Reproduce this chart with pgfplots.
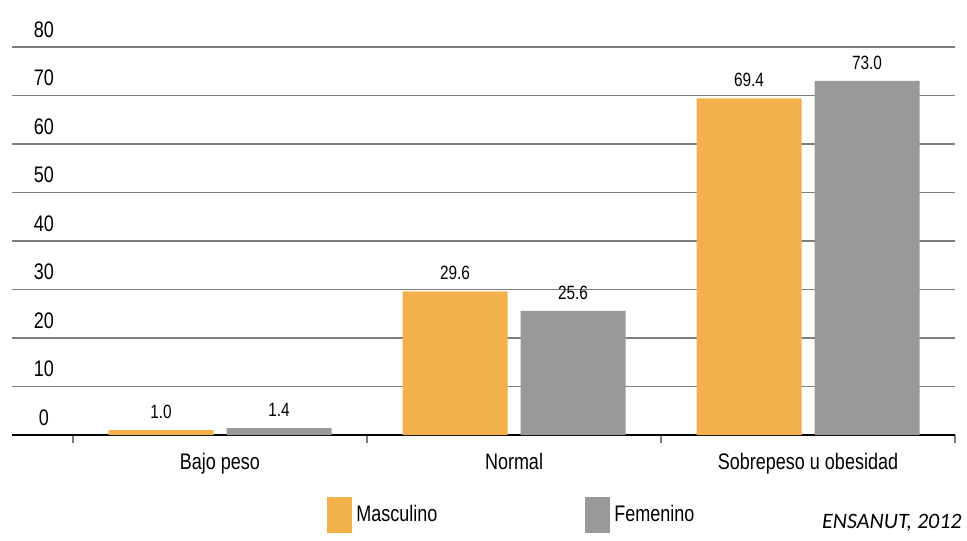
\documentclass[border=0pt]{standalone}
\usepackage{fontspec}
\setmainfont[FakeStretch=0.8]{Liberation Sans}
\newfontfamily\carlito{Carlito}
\usepackage{pgfplots}
\pgfplotsset{compat=1.18}
\definecolor{masc}{RGB}{243,177,75}
\definecolor{fem}{RGB}{151,153,155}
\definecolor{gridc}{RGB}{125,125,125}
\begin{document}
\begin{tikzpicture}
\path[use as bounding box] (-6pt,-52.5pt) rectangle (477.5pt,217.5pt);
\begin{axis}[
  at={(0,0)}, anchor=south west,
  scale only axis, width=471.5pt, height=194pt,
  xmin=-0.7075, xmax=2.5, ymin=0, ymax=80,
  ybar=6.5pt, bar width=52.5pt,
  axis x line*=bottom, axis y line*=left,
  y axis line style={draw=none},
  x axis line style={black, line width=1.3pt},
  ymajorgrids, grid style={gridc, line width=0.6pt},
  ytick={0,10,...,80},
  ytick style={draw=none},
  yticklabel style={anchor=base, inner sep=0pt, xshift=16pt, yshift=5pt, font=\fontsize{11.25}{13}\selectfont},
  xtick={0,1,2}, xticklabels={Bajo peso, Normal, Sobrepeso u obesidad},
  major tick length=0pt,
  minor xtick={-0.5,0.5,1.5,2.5}, minor tick length=4pt, tick align=outside,
  minor tick style={gridc, line width=0.6pt},
  xticklabel style={anchor=north, inner sep=0pt, yshift=-9pt, font=\fontsize{11.25}{13}\selectfont},
  nodes near coords={\pgfmathprintnumber[fixed,fixed zerofill,precision=1]{\pgfplotspointmeta}},
  every node near coord/.append style={font=\fontsize{9.6}{11}\selectfont, inner sep=0pt, yshift=5.5pt, black},
  /pgf/number format/assume math mode=true,
  clip=false,
  legend columns=2,
  legend style={draw=none, fill=none, at={(0.334,-0.206)}, anchor=west, inner sep=0pt,
    font=\fontsize{11.25}{13}\selectfont,
    /tikz/every even column/.append style={column sep=72pt}},
  legend image code/.code={\fill[#1] (0pt,-9pt) rectangle (12.5pt,9pt);},
]
\addplot[fill=masc, draw=none] coordinates {(0,1.0) (1,29.6) (2,69.4)};
\addplot[fill=fem, draw=none] coordinates {(0,1.4) (1,25.6) (2,73.0)};
\legend{Masculino, Femenino}
\node[anchor=east, inner sep=0pt, font=\carlito\itshape\fontsize{11}{13}\selectfont] at (rel axis cs:1.0074,-0.2268) {ENSANUT, 2012};
\end{axis}
\end{tikzpicture}
\end{document}
